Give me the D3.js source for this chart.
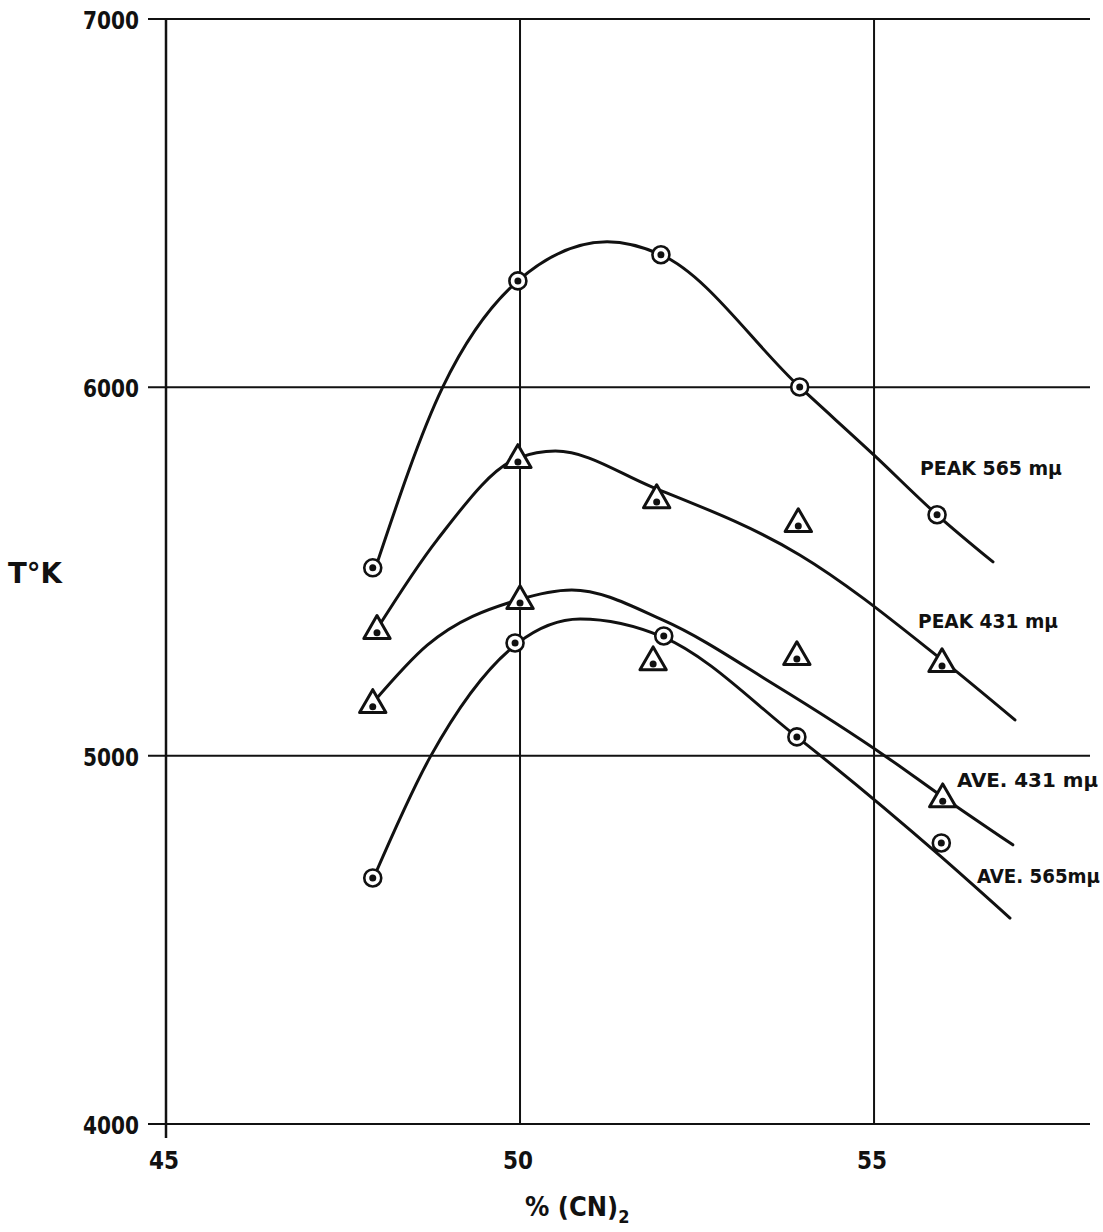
<!DOCTYPE html>
<html>
<head>
<meta charset="utf-8">
<script src="https://cdn.jsdelivr.net/npm/d3@7"></script>
<style>
  body { margin: 0; background: #fff; }
  svg { display: block; }
  text { font-family: "DejaVu Sans Condensed", "DejaVu Sans", sans-serif; font-weight: bold; fill: #111; }
</style>
</head>
<body>
<div id="chart"></div>
<script>
// measured points (x = % (CN)2, y = T in K)
const peak565X = [47.92, 49.97, 51.99, 53.95, 55.89]
const peak565T = [5510, 6289, 6360, 6001, 5654]
const peak431X = [47.98, 49.97, 51.93, 53.93, 55.96]
const peak431T = [5339, 5803, 5694, 5629, 5249]
const ave431X = [47.92, 50.0, 51.88, 53.91, 55.97]
const ave431T = [5138, 5420, 5254, 5268, 4882]
const ave565X = [47.92, 49.93, 52.03, 53.91, 55.95]
const ave565T = [4668, 5306, 5325, 5051, 4763]

// hand drawn fitted curves, knots
const peak565CurveX = [47.94, 48.91, 49.97, 51.23, 51.99, 53.95, 55.0, 55.89, 56.68]
const peak565CurveT = [5499, 6001, 6289, 6395, 6360, 6001, 5816, 5654, 5526]
const peak431CurveX = [47.97, 48.83, 49.97, 50.5, 51.86, 53.95, 55.96, 56.99]
const peak431CurveT = [5341, 5586, 5808, 5827, 5730, 5545, 5260, 5097]
const ave431CurveX = [47.92, 48.69, 49.97, 50.73, 52.02, 53.6, 55.18, 55.97, 56.96]
const ave431CurveT = [5143, 5300, 5423, 5450, 5368, 5192, 4996, 4888, 4758]
const ave565CurveX = [47.92, 48.73, 49.97, 50.85, 52.02, 53.91, 55.95, 56.92]
const ave565CurveT = [4663, 4996, 5306, 5371, 5322, 5051, 4725, 4559]

const xTicks = [45, 50, 55]
const yTicks = [4000, 5000, 6000, 7000]

const series = [
  {name: "PEAK 565 mμ", marker: "circle", x: peak565X, t: peak565T, cx: peak565CurveX, ct: peak565CurveT,
    label: {x: 920, y: 475, len: 142}},
  {name: "PEAK 431 mμ", marker: "triangle", x: peak431X, t: peak431T, cx: peak431CurveX, ct: peak431CurveT,
    label: {x: 918, y: 628, len: 140}},
  {name: "AVE. 431 mμ", marker: "triangle", x: ave431X, t: ave431T, cx: ave431CurveX, ct: ave431CurveT,
    label: {x: 957, y: 787, len: 141}},
  {name: "AVE. 565mμ", marker: "circle", x: ave565X, t: ave565T, cx: ave565CurveX, ct: ave565CurveT,
    label: {x: 977, y: 883, len: 123}},
]

const width = 1103
const height = 1232

const svg = d3.select("#chart").append("svg")
  .attr("width", width)
  .attr("height", height)

const scaleX = d3.scaleLinear()
  .domain([45, 58.05])
  .range([166, 1090])
const scaleY = d3.scaleLinear()
  .domain([4000, 7000])
  .range([1124, 19])

// grid
const grid = svg.append("g")
  .attr("stroke", "#111")
  .attr("stroke-width", 2)

grid.selectAll("line.h")
  .data(yTicks)
  .join("line")
    .attr("class", "h")
    .attr("x1", 148)
    .attr("x2", scaleX.range()[1])
    .attr("y1", d => scaleY(d))
    .attr("y2", d => scaleY(d))

grid.selectAll("line.v")
  .data(xTicks)
  .join("line")
    .attr("class", "v")
    .attr("x1", d => scaleX(d))
    .attr("x2", d => scaleX(d))
    .attr("y1", scaleY(7000))
    .attr("y2", d => d == 45 ? scaleY(4000) + 14 : scaleY(4000))
    .attr("stroke-width", d => d == 45 ? 2.5 : 2)

// tick labels
svg.append("g").selectAll("text")
  .data(yTicks)
  .join("text")
    .attr("x", 139)
    .attr("y", d => scaleY(d) + 10)
    .attr("text-anchor", "end")
    .attr("font-size", 25)
    .attr("textLength", 56)
    .attr("lengthAdjust", "spacingAndGlyphs")
    .text(d => d)

svg.append("g").selectAll("text")
  .data(xTicks)
  .join("text")
    .attr("x", d => scaleX(d) - 2)
    .attr("y", 1169)
    .attr("text-anchor", "middle")
    .attr("font-size", 25)
    .attr("textLength", 30)
    .attr("lengthAdjust", "spacingAndGlyphs")
    .text(d => d)

// axis titles
const xTitle = svg.append("text")
  .attr("x", 525)
  .attr("y", 1216)
  .attr("font-size", 27)
const xTitleParts = [["% (CN)", 0], ["2", 7]]
xTitle.selectAll("tspan")
  .data(xTitleParts)
  .join("tspan")
    .attr("dy", d => d[1])
    .attr("font-size", (d, i) => i ? 18 : 27)
    .text(d => d[0])

svg.append("text")
  .attr("x", 8)
  .attr("y", 583)
  .attr("font-size", 28)
  .attr("textLength", 54)
  .attr("lengthAdjust", "spacingAndGlyphs")
  .text("T°K")

// curves
const line = d3.line()
  .x(d => scaleX(d[0]))
  .y(d => scaleY(d[1]))
  .curve(d3.curveMonotoneX)

const curves = svg.append("g")
curves.selectAll("path")
  .data(series)
  .join("path")
    .attr("d", s => line(s.cx.map((x, i) => [x, s.ct[i]])))
    .attr("fill", "none")
    .attr("stroke", "#111")
    .attr("stroke-width", 3)
    .attr("stroke-linecap", "round")

// markers
const markers = svg.append("g")
series.forEach(s => {
  const pts = s.x.map((x, i) => [scaleX(x), scaleY(s.t[i])])
  const g = markers.append("g")
  if (s.marker == "circle") {
    g.selectAll("circle.ring")
      .data(pts)
      .join("circle")
        .attr("class", "ring")
        .attr("cx", d => d[0])
        .attr("cy", d => d[1])
        .attr("r", 8.5)
        .attr("fill", "#fff")
        .attr("stroke", "#111")
        .attr("stroke-width", 2.6)
  } else {
    const tri = d3.symbol().type(d3.symbolTriangle).size(300)
    g.selectAll("path")
      .data(pts)
      .join("path")
        .attr("d", tri)
        .attr("transform", d => `translate(${d[0]},${d[1]})`)
        .attr("fill", "#fff")
        .attr("stroke", "#111")
        .attr("stroke-width", 3)
        .attr("stroke-linejoin", "round")
  }
  g.selectAll("circle.dot")
    .data(pts)
    .join("circle")
      .attr("class", "dot")
      .attr("cx", d => d[0])
      .attr("cy", d => d[1] + (s.marker == "triangle" ? 2 : 0))
      .attr("r", 3.5)
      .attr("fill", "#111")
})

// curve labels
svg.append("g").selectAll("text")
  .data(series)
  .join("text")
    .attr("x", s => s.label.x)
    .attr("y", s => s.label.y)
    .attr("font-size", 19)
    .attr("textLength", s => s.label.len)
    .attr("lengthAdjust", "spacingAndGlyphs")
    .text(s => s.name)
</script>
</body>
</html>
